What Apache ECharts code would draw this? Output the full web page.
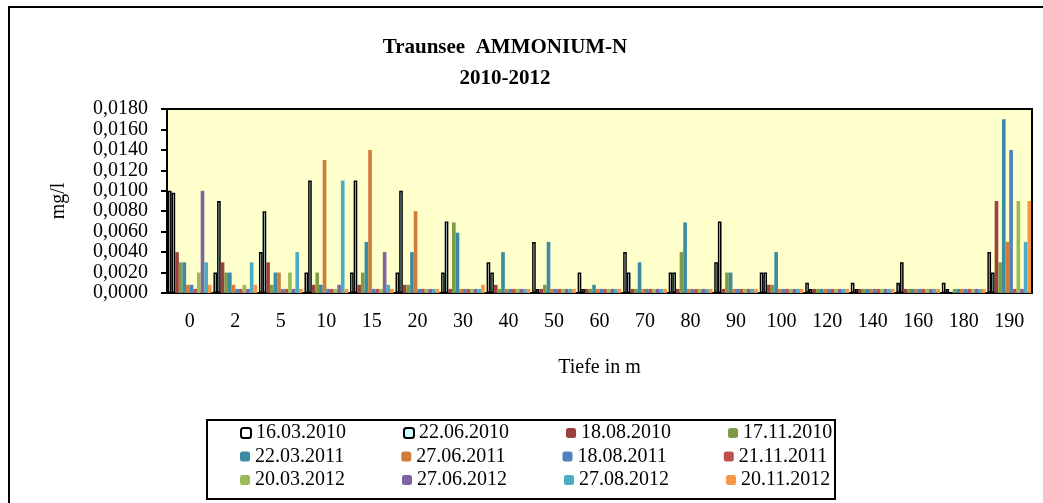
<!DOCTYPE html>
<html>
<head>
<meta charset="utf-8">
<title>Traunsee AMMONIUM-N</title>
<script src="https://cdn.jsdelivr.net/npm/echarts@6/dist/echarts.min.js"></script>
<style>
    html, body { margin: 0; padding: 0; background: #fff; }
    #chart { width: 1043px; height: 503px; }
</style>
</head>
<body>
<div id="chart"></div>
<script>
// Tiefen (Kategorien)
var depths = ['0', '2', '5', '10', '15', '20', '30', '40', '50', '60', '70', '80', '90', '100', '120', '140', '160', '180', '190'];

// Probenahmetermine
var dates = ['16.03.2010', '22.06.2010', '18.08.2010', '17.11.2010',
             '22.03.2011', '27.06.2011', '18.08.2011', '21.11.2011',
             '20.03.2012', '27.06.2012', '27.08.2012', '20.11.2012'];

// Werte in mg/l, je Termin
var d160310 = [0.0100, 0.0020, 0.0040, 0.0020, 0.0020, 0.0020, 0.0020, 0.0030, 0.0050, 0.0020, 0.0040, 0.0020, 0.0030, 0.0020, 0.0010, 0.0010, 0.0010, 0.0010, 0.0040];
var d220610 = [0.0098, 0.0090, 0.0080, 0.0110, 0.0110, 0.0100, 0.0070, 0.0020, 0.0004, 0.0004, 0.0020, 0.0020, 0.0070, 0.0020, 0.0004, 0.0004, 0.0030, 0.0004, 0.0020];
var d180810 = [0.0040, 0.0030, 0.0030, 0.0008, 0.0008, 0.0008, 0.0004, 0.0008, 0.0004, 0.0004, 0.0004, 0.0004, 0.0004, 0.0008, 0.0004, 0.0004, 0.0004, null, 0.0090];
var d171110 = [0.0030, 0.0020, 0.0008, 0.0020, 0.0020, 0.0008, 0.0069, 0.0004, 0.0008, 0.0004, 0.0004, 0.0040, 0.0020, 0.0008, 0.0004, 0.0004, 0.0004, 0.0004, 0.0030];
var d220311 = [0.0030, 0.0020, 0.0020, 0.0008, 0.0050, 0.0040, 0.0059, 0.0040, 0.0050, 0.0008, 0.0030, 0.0069, 0.0020, 0.0040, 0.0004, 0.0004, 0.0004, 0.0004, 0.0170];
var d270611 = [0.0008, 0.0008, 0.0020, 0.0130, 0.0140, 0.0080, 0.0004, 0.0004, 0.0004, 0.0004, 0.0004, 0.0004, 0.0004, 0.0004, 0.0004, 0.0004, 0.0004, 0.0004, 0.0050];
var d180811 = [0.0008, 0.0004, 0.0004, 0.0004, 0.0004, 0.0004, 0.0004, 0.0004, 0.0004, 0.0004, 0.0004, 0.0004, 0.0004, 0.0004, 0.0004, 0.0004, 0.0004, 0.0004, 0.0140];
var d211111 = [0.0004, 0.0004, 0.0004, 0.0004, 0.0004, 0.0004, 0.0004, 0.0004, 0.0004, 0.0004, 0.0004, 0.0004, 0.0004, 0.0004, 0.0004, 0.0004, 0.0004, 0.0004, 0.0004];
var d200312 = [0.0020, 0.0008, 0.0020, 0.0004, 0.0004, 0.0004, 0.0004, 0.0004, 0.0004, 0.0004, 0.0004, 0.0004, 0.0004, 0.0004, 0.0004, 0.0004, 0.0004, 0.0004, 0.0090];
var d270612 = [0.0100, 0.0004, 0.0004, 0.0008, 0.0040, 0.0004, 0.0004, 0.0004, 0.0004, 0.0004, 0.0004, 0.0004, 0.0004, 0.0004, 0.0004, 0.0004, 0.0004, 0.0004, 0.0004];
var d270812 = [0.0030, 0.0030, 0.0040, 0.0110, 0.0008, 0.0004, 0.0004, 0.0004, 0.0004, 0.0004, 0.0004, 0.0004, 0.0004, 0.0004, 0.0004, 0.0004, 0.0004, 0.0004, 0.0050];
var d201112 = [0.0008, 0.0008, 0.0004, 0.0004, 0.0004, 0.0004, 0.0008, 0.0004, 0.0004, 0.0004, 0.0004, 0.0004, 0.0004, 0.0004, 0.0004, 0.0004, 0.0004, 0.0004, 0.0090];

var values = [d160310, d220610, d180810, d171110, d220311, d270611, d180811, d211111, d200312, d270612, d270812, d201112];

// y-Achse
var yMin = 0, yMax = 0.018, yStep = 0.002;

var colors = ['#ffffff', '#ccffff', '#9c403d', '#7f9b48', '#3a8ca4', '#d07c38',
              '#4f81bd', '#c0504d', '#9bbb59', '#8064a2', '#4bacc6', '#f79646'];

var font = 'Liberation Serif, Times New Roman, serif';

var series = [];
for (var i = 0; i < dates.length; i++) {
    var style = { color: colors[i] };
    if (i < 2) { // die beiden 2010er Termine: umrandet
        style.borderColor = '#000';
        style.borderWidth = 1.5;
    }
    series.push({
        name: dates[i],
        type: 'bar',
        data: values[i],
        itemStyle: style,
        barGap: '0%',
        barCategoryGap: '4%',
        animation: false
    });
}

// Legende: drei Zeilen zu je vier Terminen
var legends = [];
for (var r = 0; r < 3; r++) {
    legends.push({
        data: dates.slice(r * 4, r * 4 + 4),
        left: 240,
        top: 423 + r * 23.5,
        padding: 0,
        itemWidth: 10,
        itemHeight: 10,
        itemGap: 57,
        selectedMode: false,
        textStyle: { fontFamily: font, fontSize: 20, color: '#000', lineHeight: 20 }
    });
}

var chart = echarts.init(document.getElementById('chart'), null, { renderer: 'canvas' });

chart.setOption({
    backgroundColor: '#fff',
    title: {
        text: 'Traunsee  AMMONIUM-N\n2010-2012',
        left: 500,
        top: 27,
        textAlign: 'center',
        textStyle: { fontFamily: font, fontSize: 21, fontWeight: 'bold', color: '#000', lineHeight: 31 }
    },
    legend: legends,
    grid: {
        left: 167, right: 11, top: 109, bottom: 210,
        show: true,
        backgroundColor: '#ffffcc',
        borderColor: '#000',
        borderWidth: 2
    },
    xAxis: {
        type: 'category',
        data: depths,
        name: 'Tiefe in m',
        nameLocation: 'middle',
        nameGap: 65,
        nameTextStyle: { fontFamily: font, fontSize: 20, color: '#000' },
        axisLine: { lineStyle: { color: '#000', width: 2 } },
        axisTick: { length: 5, lineStyle: { color: '#000', width: 2 } },
        axisLabel: { fontFamily: font, fontSize: 20, color: '#000', margin: 19 },
        splitLine: { show: false }
    },
    yAxis: {
        type: 'value',
        min: yMin,
        max: yMax,
        interval: yStep,
        name: 'mg/l',
        nameLocation: 'middle',
        nameGap: 98,
        nameRotate: 90,
        nameTextStyle: { fontFamily: font, fontSize: 20, color: '#000' },
        axisLine: { show: true, lineStyle: { color: '#000', width: 2 } },
        axisTick: { show: true, length: 6, lineStyle: { color: '#000', width: 2 } },
        axisLabel: {
            fontFamily: font, fontSize: 20, color: '#000', margin: 19,
            formatter: function (v) { return v.toFixed(4).replace('.', ','); }
        },
        splitLine: { show: false }
    },
    graphic: [
        { // Diagrammrahmen
            type: 'rect', silent: true, z: 100,
            shape: { x: 9, y: 7, width: 1100, height: 600 },
            style: { fill: 'none', stroke: '#000', lineWidth: 2 }
        },
        { // Legendenrahmen
            type: 'rect', silent: true, z: 100,
            shape: { x: 207, y: 420, width: 628, height: 79 },
            style: { fill: 'none', stroke: '#000', lineWidth: 2 }
        }
    ],
    series: series
});

window.addEventListener('resize', function () { chart.resize(); });
</script>
</body>
</html>
